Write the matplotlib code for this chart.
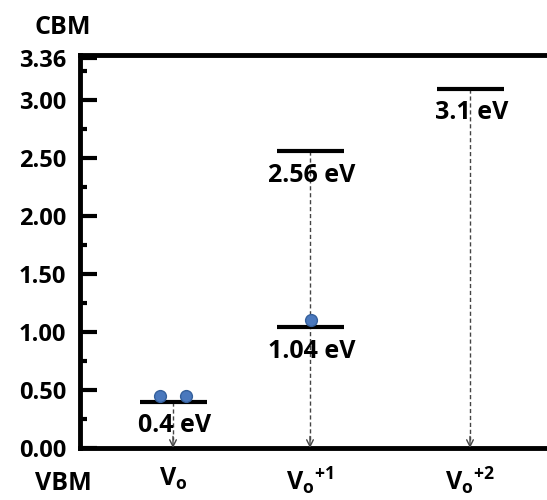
import matplotlib
matplotlib.use("Agg")
import matplotlib.pyplot as plt
from matplotlib.ticker import MultipleLocator

# ---- data ----
states = [r"$\mathbf{V_o}$", r"$\mathbf{V_o{}^{+1}}$", r"$\mathbf{V_o{}^{+2}}$"]
levels = [[0.4], [2.56, 1.04], [3.1]]
level_labels = [["0.4 eV"], ["2.56 eV", "1.04 eV"], ["3.1 eV"]]
electrons = [[0.45, 0.45], [1.10], []]          # electron dot heights per state
electron_dx = [[-0.13, 0.13], [0.01], []]        # horizontal offset of dots
y_ticks = [0.0, 0.5, 1.0, 1.5, 2.0, 2.5, 3.0, 3.36]
y_tick_labels = ["0.00", "0.50", "1.00", "1.50", "2.00", "2.50", "3.00", "3.36"]

# ---- layout ----
x_pos = [0.93, 2.30, 3.90]
half_w = 0.335
FAM = 'Open Sans'

plt.rcParams['font.family'] = [FAM, 'DejaVu Sans']
plt.rcParams['font.weight'] = 'bold'
plt.rcParams['mathtext.fontset'] = 'custom'
plt.rcParams['mathtext.rm'] = FAM + ':bold'
plt.rcParams['mathtext.bf'] = FAM + ':bold'
plt.rcParams['mathtext.it'] = FAM + ':bold'

fig = plt.figure(figsize=(5.47, 5.0), dpi=100)
ax = fig.add_axes([80 / 547, 1 - 448 / 500, 1 - 80 / 547, (448 - 55) / 500])
ax.set_xlim(0, 4.67)
ax.set_ylim(0, 3.39)

for sp in ['left', 'bottom', 'top']:
    ax.spines[sp].set_linewidth(3.5)
ax.spines['right'].set_visible(False)

ax.set_yticks(y_ticks)
ax.set_yticklabels(y_tick_labels, fontsize=17, fontweight='bold')
ax.yaxis.set_minor_locator(MultipleLocator(0.25))
ax.tick_params(axis='y', which='major', direction='in', length=12, width=3, pad=10)
ax.tick_params(axis='y', which='minor', direction='in', length=5, width=3)

ax.set_xticks(x_pos)
ax.set_xticklabels(states, fontsize=18)
ax.tick_params(axis='x', length=0, pad=13)

for i, x in enumerate(x_pos):
    top = max(levels[i])
    ax.plot([x, x], [top, 0.07], ls=(0, (3, 2)), color='#444444', lw=1.0, zorder=2)
    ax.annotate('', xy=(x, 0.0), xytext=(x, 0.1),
                arrowprops=dict(arrowstyle='->', color='#444444', lw=1.0,
                                mutation_scale=12, shrinkA=0, shrinkB=0))
    for lv, lab in zip(levels[i], level_labels[i]):
        ax.plot([x - half_w, x + half_w], [lv, lv], color='black', lw=3, solid_capstyle='butt', zorder=3)
        ax.text(x + 0.02, lv - 0.21, lab, ha='center', va='center', fontsize=18,
                fontweight='bold', zorder=4)
    for e, dx in zip(electrons[i], electron_dx[i]):
        ax.plot(x + dx, e, 'o', ms=8.5, color='#4a78bd', mec='#35609c', mew=1, zorder=5)

fig.text(63 / 547, 1 - 484 / 500, "VBM", ha='center', va='center', fontsize=18, fontweight='bold')
fig.text(63 / 547, 1 - 27 / 500, "CBM", ha='center', va='center', fontsize=18, fontweight='bold')

fig.savefig("out.png", dpi=100)
